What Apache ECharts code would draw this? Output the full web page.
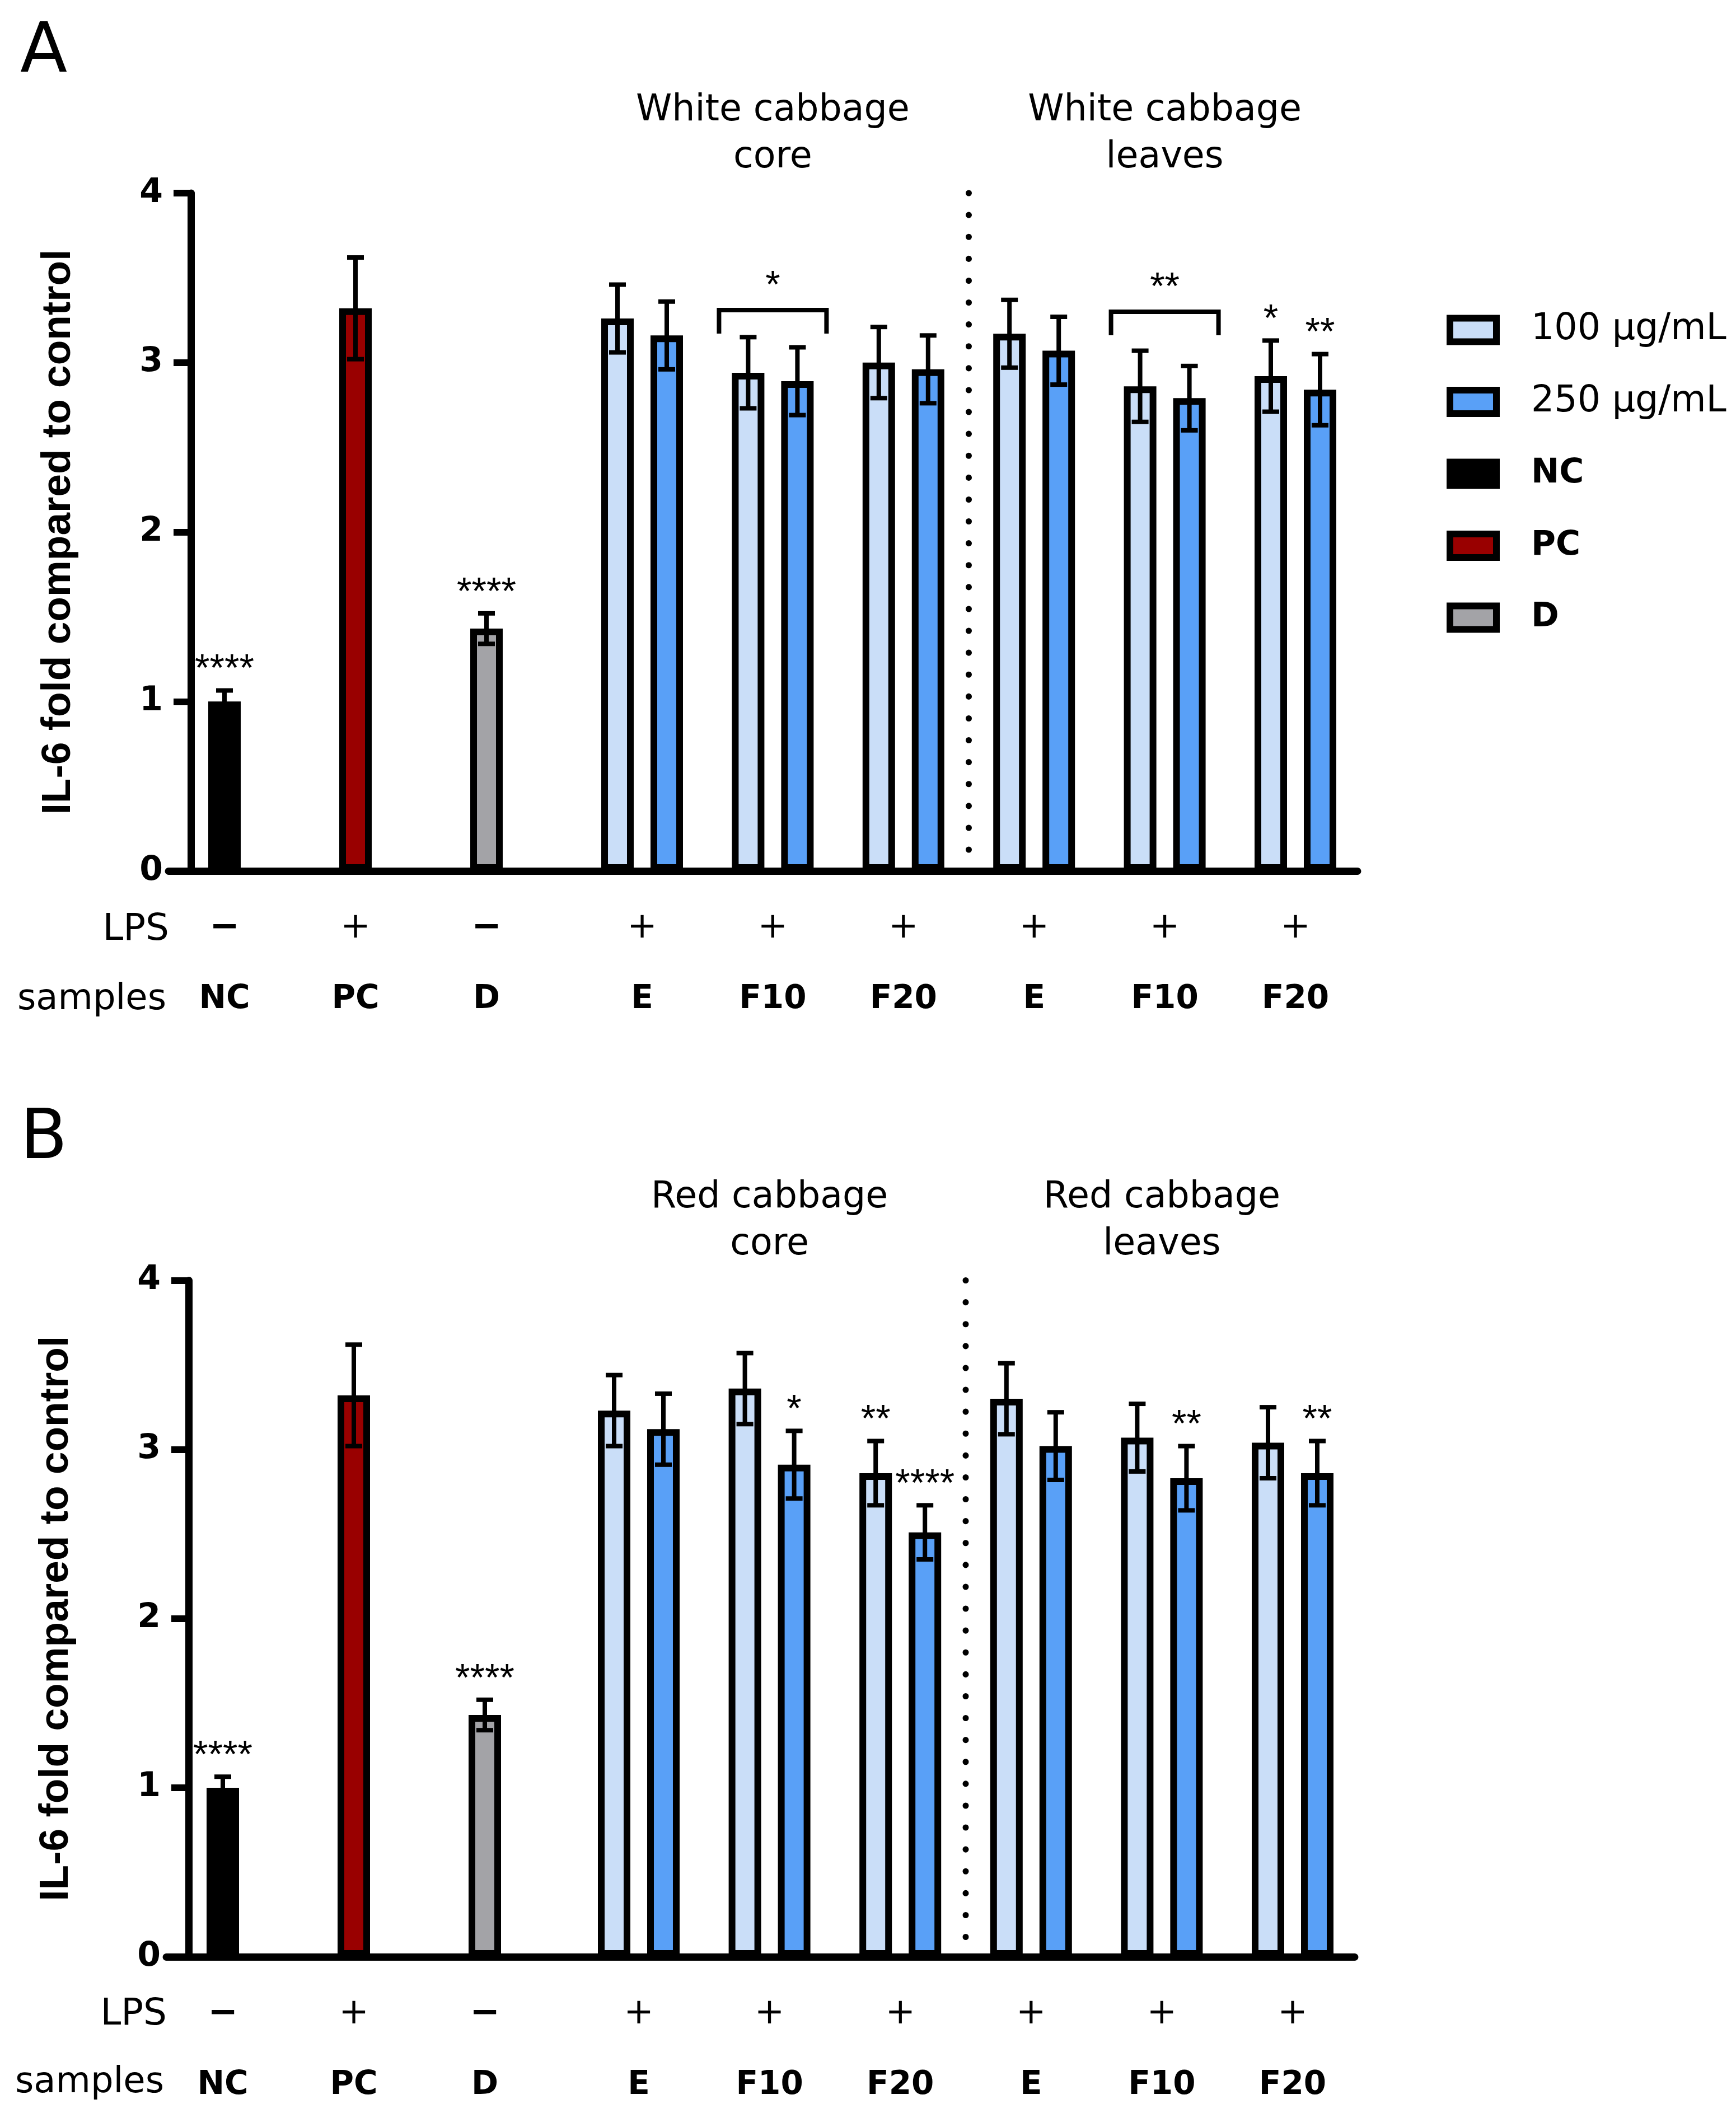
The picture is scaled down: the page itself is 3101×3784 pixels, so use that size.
<!DOCTYPE html>
<html>
<head>
<meta charset="utf-8">
<title>IL-6 fold compared to control</title>
<script src="https://cdn.jsdelivr.net/npm/echarts@6/dist/echarts.min.js"></script>
<style>
html, body { margin: 0; padding: 0; background: #fff; }
#chart { width: 3101px; height: 3784px; }
</style>
</head>
<body>
<div id="chart"></div>
<script>
// controls (NC, PC, D), same in both panels
var controlNames = ['NC', 'PC', 'D'];
var controlLps = ['−', '+', '−'];
var controlValues = [1.00, 3.32, 1.43];
var controlErrors = [0.065, 0.30, 0.09];
var controlStars = ['****', '', '****'];

// extract samples: core E, F10, F20, leaves E, F10, F20
var sampleNames = ['E', 'F10', 'F20', 'E', 'F10', 'F20'];
var sampleLps = ['+', '+', '+', '+', '+', '+'];
var yTicks = [0, 1, 2, 3, 4];

// panel A: white cabbage
var whiteLow = [3.26, 2.94, 3.00, 3.17, 2.86, 2.92];
var whiteLowErr = [0.20, 0.21, 0.21, 0.20, 0.21, 0.21];
var whiteHigh = [3.16, 2.89, 2.96, 3.07, 2.79, 2.84];
var whiteHighErr = [0.20, 0.20, 0.20, 0.20, 0.19, 0.21];
var whiteLowStars = ['', '', '', '', '', '*'];
var whiteHighStars = ['', '', '', '', '', '**'];
var whiteBracketCats = [1, 4];
var whiteBracketLevels = [3.31, 3.30];
var whiteBracketStars = ['*', '**'];
var whiteTitles = ['White cabbage\ncore', 'White cabbage\nleaves'];

// panel B: red cabbage
var redLow = [3.23, 3.36, 2.86, 3.30, 3.07, 3.04];
var redLowErr = [0.21, 0.21, 0.19, 0.21, 0.20, 0.21];
var redHigh = [3.12, 2.91, 2.51, 3.02, 2.83, 2.86];
var redHighErr = [0.21, 0.20, 0.16, 0.20, 0.19, 0.19];
var redLowStars = ['', '', '**', '', '', ''];
var redHighStars = ['', '*', '****', '', '**', '**'];
var redTitles = ['Red cabbage\ncore', 'Red cabbage\nleaves'];

var titleCats = [1, 4];
var separatorBetween = [2, 3];

var LOW_COLOR = '#CADEF8', HIGH_COLOR = '#59A0F7';
var CONTROL_COLORS = ['#000000', '#990000', '#A3A3A7'];
// bar border is drawn inside the bar width in echarts
var BAR_W = 58, BORDER = 12, PAIR_OFFSET = 44, CAP = 15, ERR_LW = 8, STAR_GAP = 36;

// per panel: full frame grid (axes lines), controls grid, samples grid
var frames = [
    { top: 345, height: 1211, left: 301, width: 2124, ctrlLeft: 284, ctrlWidth: 702, smpLeft: 1030.3, smpWidth: 1400.4 },
    { top: 2287.5, height: 1208.5, left: 297, width: 2123, ctrlLeft: 281, ctrlWidth: 702, smpLeft: 1024.2, smpWidth: 1401.6 }
];

function lineEl(x1, y1, x2, y2, w) {
    return { type: 'line', shape: { x1: x1, y1: y1, x2: x2, y2: y2 }, style: { stroke: '#000', lineWidth: w } };
}
function starEl(txt, x, y) {
    return { type: 'text', style: { text: txt, x: x, y: y, align: 'center', verticalAlign: 'middle',
        fontSize: 68, fontFamily: 'Liberation Sans', fill: '#000' } };
}

function errorSeries(axisIdx, items) {
    return {
        type: 'custom', xAxisIndex: axisIdx, yAxisIndex: axisIdx, z: 5, clip: false, silent: true,
        data: items.map(function (d) { return [d.x, d.v, d.e, d.side]; }),
        renderItem: function (params, api) {
            var d = items[params.dataIndex];
            var top = api.coord([d.x, d.v + d.e]);
            var bot = api.coord([d.x, d.v - d.e]);
            var cx = top[0] + d.side * PAIR_OFFSET;
            var kids = [
                lineEl(cx, top[1], cx, bot[1], ERR_LW),
                lineEl(cx - CAP, top[1], cx + CAP, top[1], ERR_LW),
                lineEl(cx - CAP, bot[1], cx + CAP, bot[1], ERR_LW)
            ];
            if (d.star) kids.push(starEl(d.star, cx, top[1] - STAR_GAP));
            return { type: 'group', children: kids };
        }
    };
}

function decorSeries(axisIdx, titles, bracketCats, bracketLevels, bracketStars) {
    var items = [];
    titles.forEach(function (t, i) { items.push({ kind: 'title', x: titleCats[i], text: t }); });
    items.push({ kind: 'sep' });
    bracketCats.forEach(function (c, i) { items.push({ kind: 'bracket', x: c, level: bracketLevels[i], star: bracketStars[i] }); });
    return {
        type: 'custom', xAxisIndex: axisIdx, yAxisIndex: axisIdx, z: 6, clip: false, silent: true,
        data: items.map(function (d) { return [d.x || 0, d.level || 0]; }),
        renderItem: function (params, api) {
            var d = items[params.dataIndex];
            if (d.kind === 'title') {
                var p = api.coord([d.x, 4]);
                return { type: 'text', style: { text: d.text, x: p[0], y: p[1] - 21, align: 'center', verticalAlign: 'bottom',
                    fontSize: 65, lineHeight: 84, fontFamily: 'DejaVu Sans', fill: '#000' } };
            }
            if (d.kind === 'sep') {
                var a = api.coord([separatorBetween[0], 4.0]);
                var b = api.coord([separatorBetween[1], 0.06]);
                var sx = (a[0] + b[0]) / 2;
                return { type: 'line', shape: { x1: sx, y1: a[1], x2: sx, y2: b[1] },
                    style: { stroke: '#000', lineWidth: 11, lineDash: [0.1, 39], lineCap: 'round' } };
            }
            var c = api.coord([d.x, d.level]);
            var x1 = c[0] - 96, x2 = c[0] + 96;
            return { type: 'group', children: [
                { type: 'polyline', shape: { points: [[x1, c[1] + 42], [x1, c[1]], [x2, c[1]], [x2, c[1] + 42]] },
                  style: { stroke: '#000', lineWidth: 8, fill: null } },
                starEl(d.star, c[0], c[1] - 42)
            ] };
        }
    };
}

function barStyle(color) { return { color: color, borderColor: '#000', borderWidth: BORDER }; }

function panelSeries(k, low, lowErr, high, highErr, lowStars, highStars, titles, bCats, bLevels, bStars) {
    var ctrlIdx = 3 * k + 1, smpIdx = 3 * k + 2;
    var list = [
        { name: '100 μg/mL', type: 'bar', xAxisIndex: smpIdx, yAxisIndex: smpIdx, barWidth: BAR_W, barGap: '51.7%',
          itemStyle: barStyle(LOW_COLOR), data: low, silent: true },
        { name: '250 μg/mL', type: 'bar', xAxisIndex: smpIdx, yAxisIndex: smpIdx, barWidth: BAR_W, barGap: '51.7%',
          itemStyle: barStyle(HIGH_COLOR), data: high, silent: true }
    ];
    controlNames.forEach(function (n, i) {
        var data = controlNames.map(function (c, j) { return j === i ? controlValues[i] : '-'; });
        list.push({ name: n, type: 'bar', xAxisIndex: ctrlIdx, yAxisIndex: ctrlIdx, barWidth: BAR_W, barGap: '-100%',
            itemStyle: barStyle(CONTROL_COLORS[i]), data: data, silent: true });
    });
    var ctrlItems = controlValues.map(function (v, i) {
        return { x: i, v: v, e: controlErrors[i], side: 0, star: controlStars[i] };
    });
    var smpItems = [];
    low.forEach(function (v, i) { smpItems.push({ x: i, v: v, e: lowErr[i], side: -1, star: lowStars[i] }); });
    high.forEach(function (v, i) { smpItems.push({ x: i, v: v, e: highErr[i], side: 1, star: highStars[i] }); });
    list.push(errorSeries(ctrlIdx, ctrlItems));
    list.push(errorSeries(smpIdx, smpItems));
    list.push(decorSeries(smpIdx, titles, bCats, bLevels, bStars));
    return list;
}

function categoryAxis(k, names, signs) {
    return {
        type: 'category', gridIndex: k, data: names,
        axisLine: { show: false },
        axisTick: { alignWithLabel: true, interval: 0, length: 38, lineStyle: { color: '#000', width: 12 } },
        axisLabel: {
            interval: 0, margin: 38, color: '#000',
            formatter: function (v, i) { return '{' + (signs[i] === '+' ? 'p' : 'm') + '|' + signs[i] + '}\n{n|' + v + '}'; },
            rich: {
                m: { fontFamily: 'DejaVu Sans', fontWeight: 'bold', fontSize: 64, lineHeight: 128 },
                p: { fontFamily: 'DejaVu Sans', fontSize: 64, lineHeight: 128 },
                n: { fontFamily: 'DejaVu Sans', fontWeight: 'bold', fontSize: 58, lineHeight: 128 }
            }
        },
        splitLine: { show: false }
    };
}

function panelAxes(k) {
    var g = 3 * k;
    var x = [
        { type: 'value', gridIndex: g, min: 0, max: 1, axisLine: { onZero: false, lineStyle: { color: '#000', width: 13 } },
          axisTick: { show: false }, axisLabel: { show: false }, splitLine: { show: false } },
        categoryAxis(g + 1, controlNames, controlLps),
        categoryAxis(g + 2, sampleNames, sampleLps)
    ];
    var hiddenY = function (gi) { return { type: 'value', gridIndex: gi, min: yTicks[0], max: yTicks[yTicks.length - 1], show: false }; };
    var y = [
        {
            type: 'value', gridIndex: g, min: yTicks[0], max: yTicks[yTicks.length - 1], interval: 1, offset: -40,
            name: 'IL-6 fold compared to control', nameLocation: 'middle', nameRotate: 90, nameGap: 200,
            nameTextStyle: { fontFamily: 'Liberation Sans', fontWeight: 'bold', fontSize: 73, color: '#000' },
            axisLine: { show: true, lineStyle: { color: '#000', width: 13 } },
            axisTick: { show: true, length: 31, lineStyle: { color: '#000', width: 12 } },
            axisLabel: { margin: 50, color: '#000', fontFamily: 'DejaVu Sans', fontWeight: 'bold', fontSize: 60 },
            splitLine: { show: false }
        },
        hiddenY(g + 1),
        hiddenY(g + 2)
    ];
    return { x: x, y: y };
}

function panelGrids(f) {
    return [
        { left: f.left, top: f.top, width: f.width, height: f.height },
        { left: f.ctrlLeft, top: f.top, width: f.ctrlWidth, height: f.height },
        { left: f.smpLeft, top: f.top, width: f.smpWidth, height: f.height }
    ];
}

function label(text, x, y, size, align) {
    return { type: 'text', x: x, y: y, silent: true,
        style: { text: text, x: 0, y: 0, align: align, verticalAlign: 'middle', fontSize: size,
            fontFamily: 'DejaVu Sans', fill: '#000' } };
}

var axesA = panelAxes(0), axesB = panelAxes(1);
var chart = echarts.init(document.getElementById('chart'), null, { renderer: 'canvas' });
chart.setOption({
    backgroundColor: '#fff',
    animation: false,
    grid: panelGrids(frames[0]).concat(panelGrids(frames[1])),
    xAxis: axesA.x.concat(axesB.x),
    yAxis: axesA.y.concat(axesB.y),
    legend: {
        orient: 'vertical', left: 2584, top: 557, padding: 0, itemGap: 63.5,
        itemWidth: 83, itemHeight: 42, icon: 'rect', selectedMode: false,
        data: ['100 μg/mL', '250 μg/mL'].concat(controlNames),
        itemStyle: { borderColor: '#000', borderWidth: BORDER },
        formatter: function (n) { return controlNames.indexOf(n) >= 0 ? '{b|' + n + '}' : '{r|' + n + '}'; },
        textStyle: {
            color: '#000', fontFamily: 'DejaVu Sans', fontSize: 65, lineHeight: 65, padding: [0, 0, 0, 57],
            rich: {
                r: { fontFamily: 'DejaVu Sans', fontSize: 65, lineHeight: 65 },
                b: { fontFamily: 'DejaVu Sans', fontWeight: 'bold', fontSize: 60, lineHeight: 65 }
            }
        }
    },
    graphic: [
        label('A', 36, 96, 123, 'left'),
        label('B', 36, 2037, 123, 'left'),
        label('LPS', 302, 1662, 66, 'right'),
        label('samples', 297, 1786, 64, 'right'),
        label('LPS', 298, 3600, 66, 'right'),
        label('samples', 293, 3721, 64, 'right')
    ],
    series: panelSeries(0, whiteLow, whiteLowErr, whiteHigh, whiteHighErr, whiteLowStars, whiteHighStars,
            whiteTitles, whiteBracketCats, whiteBracketLevels, whiteBracketStars)
        .concat(panelSeries(1, redLow, redLowErr, redHigh, redHighErr, redLowStars, redHighStars,
            redTitles, [], [], []))
});
</script>
</body>
</html>
